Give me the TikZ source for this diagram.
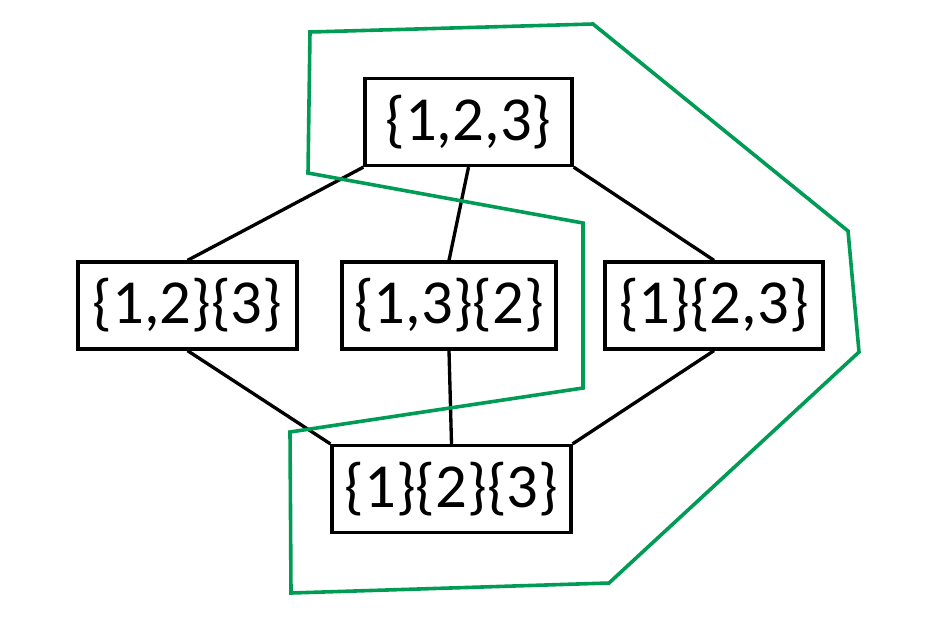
\documentclass[tikz,border=0pt]{standalone}
\usepackage{fontspec}
\setmainfont{Carlito}
\definecolor{hullgreen}{RGB}{0,155,85}
\begin{document}
\begin{tikzpicture}[x=0.75pt,y=-0.75pt,
  setbox/.style={draw=black,line width=2.7pt,inner sep=0pt,minimum height=65pt,
    font=\fontsize{47}{56}\selectfont},
  link/.style={draw=black,line width=2.5pt},
  hull/.style={draw=hullgreen,line width=2.7pt,line join=miter}]
  \useasboundingbox (0,0) rectangle (941,619);
  % partition lattice of {1,2,3}
  \node[setbox,minimum width=155pt]   (t) at (468.5,122)   {\{1,2,3\}};
  \node[setbox,minimum width=164pt]   (l) at (187.5,305.5) {\{1,2\}\{3\}};
  \node[setbox,minimum width=160.5pt] (m) at (449,305.5)   {\{1,3\}\{2\}};
  \node[setbox,minimum width=163.5pt] (r) at (714,305.5)   {\{1\}\{2,3\}};
  \node[setbox,minimum width=179pt]   (b) at (451.5,489)   {\{1\}\{2\}\{3\}};
  % covering relations
  \draw[link] (t.south west) -- (l.north);
  \draw[link] (t.south) -- (m.north);
  \draw[link] (t.south east) -- (r.north);
  \draw[link] (l.south) -- (b.north west);
  \draw[link] (m.south) -- (b.north);
  \draw[link] (r.south) -- (b.north east);
  % green outline around a chain of the lattice
  \draw[hull] (310,32) -- (593,24) -- (848,231) -- (859,352) -- (609,583)
    -- (291,593) -- (290,432) -- (583,388) -- (583,223) -- (308,173) -- cycle;
\end{tikzpicture}
\end{document}
